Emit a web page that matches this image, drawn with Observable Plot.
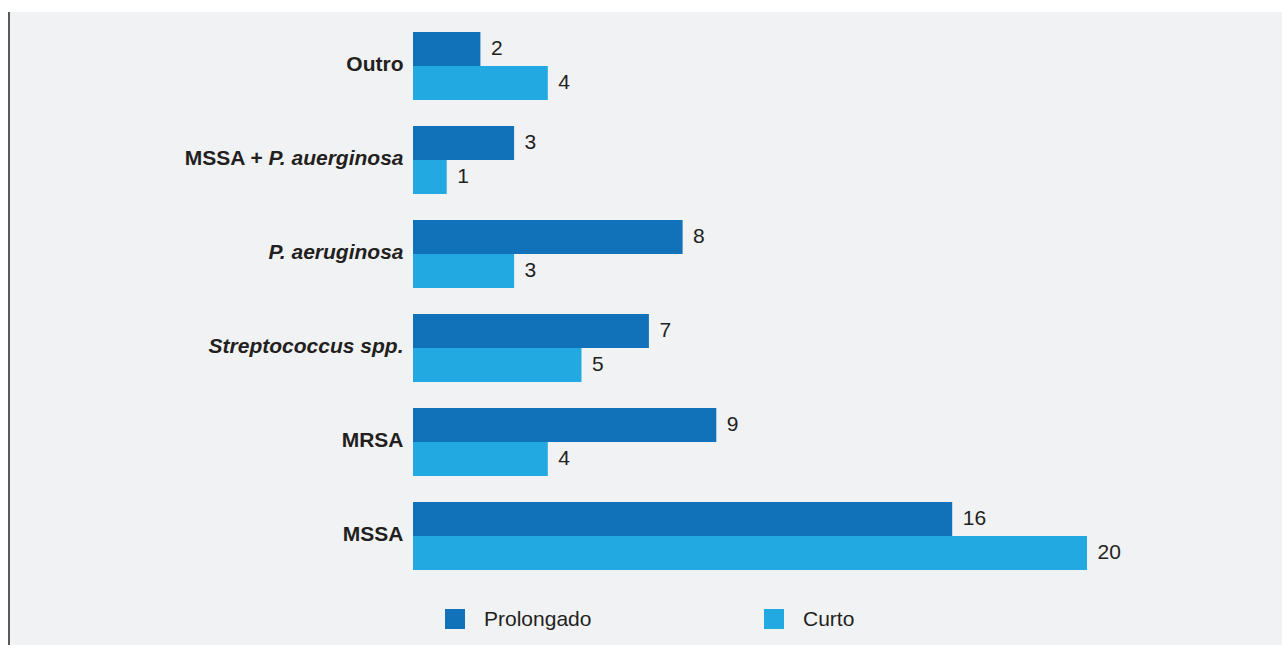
<!DOCTYPE html>
<html><head><meta charset="utf-8">
<script src="https://cdn.jsdelivr.net/npm/d3@7"></script>
<script src="https://cdn.jsdelivr.net/npm/@observablehq/plot@0.6"></script>
<style>
html,body{margin:0;padding:0;background:#fff;}
#panel{position:absolute;left:8px;top:12px;width:1272px;height:633px;background:#f1f2f4;border-left:2px solid #58595b;font-family:"Liberation Sans",Arial,sans-serif;overflow:hidden;}
#chart svg{display:block;}
.leg{position:absolute;top:597px;height:20px;display:flex;align-items:center;font-size:21px;color:#231f20;font-family:"Liberation Sans",Arial,sans-serif;}
.sw{width:20px;height:20px;margin-right:19px;}
</style></head>
<body>
<div id="panel">
  <div id="chart"></div>
  <div class="leg" style="left:435px"><span class="sw" id="sw0"></span><span id="lg0"></span></div>
  <div class="leg" style="left:754px"><span class="sw" id="sw1"></span><span id="lg1"></span></div>
</div>
<script>
// Category labels split into upright and italic parts
const labelRoman  = ["Outro", "MSSA + ", "", "", "MRSA", "MSSA"];
const labelItalic = ["", "P. auerginosa", "P. aeruginosa", "Streptococcus spp.", "", ""];
const categories = labelRoman.map((r, i) => r + labelItalic[i]);
const seriesNames = ["Prolongado", "Curto"];
const prolongado = [2, 3, 8, 7, 9, 16];
const curto      = [4, 1, 3, 5, 4, 20];
const colors = ["#1172ba", "#23a9e1"];

const data = categories.map((c, i) => ({category: c, prolongado: prolongado[i], curto: curto[i]}));

const half = 34;
const plot = Plot.plot({
  width: 1272,
  height: 570,
  marginLeft: 403,
  marginRight: 195,
  marginTop: 19,
  marginBottom: 11.5,
  style: {background: "transparent", fontFamily: "'Liberation Sans', Arial, sans-serif"},
  x: {domain: [0, 20], axis: null},
  y: {domain: categories, paddingInner: 0.279, paddingOuter: 0, axis: null},
  marks: [
    Plot.barX(data, {x: "prolongado", y: "category", fill: colors[0], insetBottom: half}),
    Plot.barX(data, {x: "curto", y: "category", fill: colors[1], insetTop: half}),
    Plot.text(data, {x: "prolongado", y: "category", text: d => String(d.prolongado), dx: 10, dy: -half/2 - 1, textAnchor: "start", fontSize: 21, fill: "#231f20"}),
    Plot.text(data, {x: "curto", y: "category", text: d => String(d.curto), dx: 10, dy: half/2 - 1, textAnchor: "start", fontSize: 21, fill: "#231f20"}),
    Plot.axisY({tickSize: 0, tickPadding: 10, dy: -2, fontSize: 21, fontWeight: "bold", fill: "#231f20", label: null})
  ]
});
document.getElementById("chart").appendChild(plot);

// Rich labels: italic parts
d3.select(plot).selectAll('g[aria-label="y-axis tick label"] text').each(function() {
  const t = this.textContent;
  const i = categories.indexOf(t);
  if (i < 0) return;
  const sel = d3.select(this);
  sel.text(null);
  if (labelRoman[i]) sel.append("tspan").attr("xml:space", "preserve").style("white-space", "pre").text(labelRoman[i]);
  if (labelItalic[i]) sel.append("tspan").attr("font-style", "italic").text(labelItalic[i]);
});

seriesNames.forEach((n, i) => {
  document.getElementById("sw" + i).style.background = colors[i];
  document.getElementById("lg" + i).textContent = n;
});
</script>
</body></html>
